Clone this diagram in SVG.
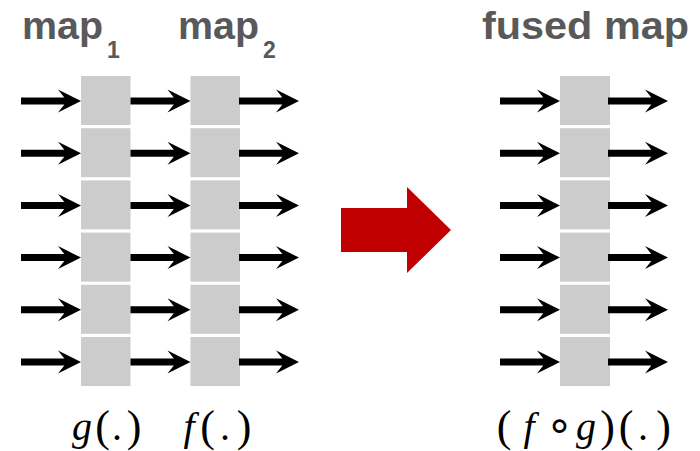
<svg xmlns="http://www.w3.org/2000/svg" xmlns:xlink="http://www.w3.org/1999/xlink" width="700" height="451" viewBox="0 0 700 451">
<style>
.box{fill:#CCCCCC}
.title{font-family:"Liberation Sans","Open Sans",sans-serif;font-weight:bold;fill:#595959}
.math{font-family:"Liberation Serif","DejaVu Serif",serif;font-size:40px;fill:#000}
.par{font-size:44px}
.it{font-style:italic}
.arr{fill:#000}
</style>
<defs>
<path id="a" class="arr" d="M-60,-3.5 H-16.7 L-23,-11.5 L0,0 L-23,11.5 L-16.7,3.5 H-60 Z"/>
</defs>
<rect width="700" height="451" fill="#fff"/>
<g id="titles">
<text class="title" x="22" y="38.5" font-size="38" textLength="81" lengthAdjust="spacingAndGlyphs">map</text>
<text class="title" x="107" y="58" font-size="23">1</text>
<text class="title" x="178" y="38.5" font-size="38" textLength="81" lengthAdjust="spacingAndGlyphs">map</text>
<text class="title" x="263" y="58" font-size="23">2</text>
<text class="title" x="482" y="38.5" font-size="39" textLength="207" lengthAdjust="spacingAndGlyphs">fused map</text>
</g>
<g id="map1">
<rect class="box" x="81" y="76" width="49.5" height="49"/>
<rect class="box" x="81" y="128.2" width="49.5" height="49"/>
<rect class="box" x="81" y="180.4" width="49.5" height="49"/>
<rect class="box" x="81" y="232.6" width="49.5" height="49"/>
<rect class="box" x="81" y="284.8" width="49.5" height="49"/>
<rect class="box" x="81" y="337" width="49.5" height="49"/>
</g>
<g id="map2">
<rect class="box" x="190.5" y="76" width="49.5" height="49"/>
<rect class="box" x="190.5" y="128.2" width="49.5" height="49"/>
<rect class="box" x="190.5" y="180.4" width="49.5" height="49"/>
<rect class="box" x="190.5" y="232.6" width="49.5" height="49"/>
<rect class="box" x="190.5" y="284.8" width="49.5" height="49"/>
<rect class="box" x="190.5" y="337" width="49.5" height="49"/>
</g>
<g id="fused">
<rect class="box" x="560" y="76" width="50" height="49"/>
<rect class="box" x="560" y="128.2" width="50" height="49"/>
<rect class="box" x="560" y="180.4" width="50" height="49"/>
<rect class="box" x="560" y="232.6" width="50" height="49"/>
<rect class="box" x="560" y="284.8" width="50" height="49"/>
<rect class="box" x="560" y="337" width="50" height="49"/>
</g>
<g id="connectors">
<use xlink:href="#a" href="#a" x="81" y="101"/><use xlink:href="#a" href="#a" x="81" y="153.2"/><use xlink:href="#a" href="#a" x="81" y="205.4"/><use xlink:href="#a" href="#a" x="81" y="257.6"/><use xlink:href="#a" href="#a" x="81" y="309.8"/><use xlink:href="#a" href="#a" x="81" y="362"/>
<use xlink:href="#a" href="#a" x="190.5" y="101"/><use xlink:href="#a" href="#a" x="190.5" y="153.2"/><use xlink:href="#a" href="#a" x="190.5" y="205.4"/><use xlink:href="#a" href="#a" x="190.5" y="257.6"/><use xlink:href="#a" href="#a" x="190.5" y="309.8"/><use xlink:href="#a" href="#a" x="190.5" y="362"/>
<use xlink:href="#a" href="#a" x="299" y="101"/><use xlink:href="#a" href="#a" x="299" y="153.2"/><use xlink:href="#a" href="#a" x="299" y="205.4"/><use xlink:href="#a" href="#a" x="299" y="257.6"/><use xlink:href="#a" href="#a" x="299" y="309.8"/><use xlink:href="#a" href="#a" x="299" y="362"/>
<use xlink:href="#a" href="#a" x="560" y="101"/><use xlink:href="#a" href="#a" x="560" y="153.2"/><use xlink:href="#a" href="#a" x="560" y="205.4"/><use xlink:href="#a" href="#a" x="560" y="257.6"/><use xlink:href="#a" href="#a" x="560" y="309.8"/><use xlink:href="#a" href="#a" x="560" y="362"/>
<use xlink:href="#a" href="#a" x="668" y="101"/><use xlink:href="#a" href="#a" x="668" y="153.2"/><use xlink:href="#a" href="#a" x="668" y="205.4"/><use xlink:href="#a" href="#a" x="668" y="257.6"/><use xlink:href="#a" href="#a" x="668" y="309.8"/><use xlink:href="#a" href="#a" x="668" y="362"/>
</g>
<g id="transform-arrow">
<polygon fill="#C00000" points="341,208 407,208 407,187 451,230 407,273 407,252 341,252"/>
</g>
<g id="labels" text-anchor="middle">
<text class="math" y="440"><tspan class="it" x="82">g</tspan><tspan class="par" x="102.5" y="441">(</tspan><tspan x="117" y="440">.</tspan><tspan class="par" x="134" y="441">)</tspan></text>
<text class="math" y="440"><tspan class="it" x="189">f</tspan><tspan class="par" x="207.5" y="441">(</tspan><tspan x="225" y="440">.</tspan><tspan class="par" x="244" y="441">)</tspan></text>
<text class="math" y="440"><tspan class="par" x="504" y="441">(</tspan><tspan class="it" x="529" y="440">f</tspan><tspan x="559.5" font-size="44" font-family="DejaVu Sans, sans-serif">∘</tspan><tspan class="it" x="586">g</tspan><tspan class="par" x="607.5" y="441">)</tspan><tspan class="par" x="626">(</tspan><tspan x="643" y="440">.</tspan><tspan class="par" x="663.5" y="441">)</tspan></text>
</g>
</svg>
